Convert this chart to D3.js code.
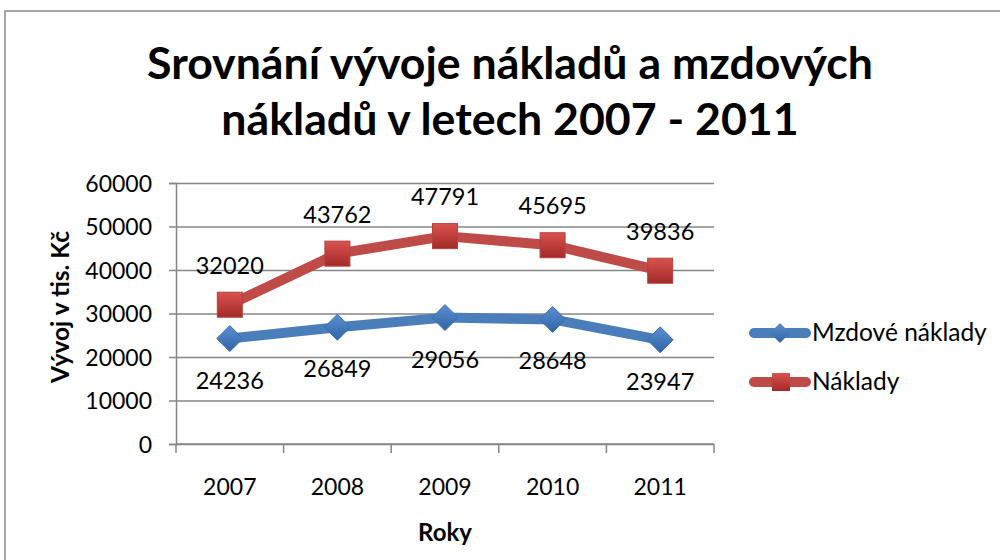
<!DOCTYPE html>
<html>
  <head>
    <meta charset="utf-8"/>
    <style>
      body { margin: 0; background: #fff; }
      text { font-family: Lato, "Open Sans", sans-serif; fill: #000; }
    </style>
  </head>
  <body>
    <script src="https://d3js.org/d3.v7.min.js"></script>
    <script type="text/javascript">
      var width = 1000, height = 560;

      var years = ["2007", "2008", "2009", "2010", "2011"];
      var mzdove = [24236, 26849, 29056, 28648, 23947];
      var naklady = [32020, 43762, 47791, 45695, 39836];
      var yTicks = [0, 10000, 20000, 30000, 40000, 50000, 60000];
      var seriesNames = ["Mzdové náklady", "Náklady"];
      var titleLines = ["Srovnání vývoje nákladů a mzdových", "nákladů v letech 2007 - 2011"];

      var svg = d3.select("body")
                  .append("svg")
                  .attr("width", width)
                  .attr("height", height)
                  .attr("xmlns", "http://www.w3.org/2000/svg");

      var defs = svg.append("defs");
      var gRed = defs.append("linearGradient").attr("id", "gred")
                     .attr("x1", 0).attr("y1", 0).attr("x2", 0).attr("y2", 1);
      gRed.append("stop").attr("offset", "0%").attr("stop-color", "#d9534f");
      gRed.append("stop").attr("offset", "100%").attr("stop-color", "#a32a28");
      var gBlue = defs.append("linearGradient").attr("id", "gblue")
                      .attr("x1", 0).attr("y1", 0).attr("x2", 0).attr("y2", 1);
      gBlue.append("stop").attr("offset", "0%").attr("stop-color", "#5b8fd0");
      gBlue.append("stop").attr("offset", "100%").attr("stop-color", "#2f64a6");

      // chart frame
      svg.append("rect").attr("x", 5).attr("y", 11)
         .attr("width", 1010).attr("height", 570)
         .attr("fill", "none").attr("stroke", "#8c8c8c").attr("stroke-width", 1.5);

      var pLeft = 176, pRight = 714, pTop = 183, pBottom = 444;

      var x = d3.scaleBand().domain(years).range([pLeft, pRight]);
      var y = d3.scaleLinear().domain([0, 60000]).range([pBottom, pTop]);
      var cx = function(d, i) { return x(years[i]) + x.bandwidth() / 2; };

      // title
      var title = svg.append("g");
      titleLines.forEach(function(t, i) {
        title.append("text").attr("x", 510).attr("y", 79 + i * 56)
             .attr("text-anchor", "middle")
             .style("font-weight", "bold").style("font-size", "40px")
             .text(t);
      });
      var w0 = title.select("text").node().getComputedTextLength();
      var fs = 40 * 726 / w0;
      title.selectAll("text").style("font-size", fs + "px");

      // gridlines + y axis
      var yAxis = d3.axisLeft(y).tickValues(yTicks).tickSize(7).tickPadding(10)
                    .tickFormat(function(d) { return d; });
      var gy = svg.append("g").attr("transform", "translate(" + pLeft + ",0)").call(yAxis);
      gy.select(".domain").attr("stroke", "#868686").attr("stroke-width", 1.5);
      gy.selectAll(".tick line").attr("stroke", "#868686").attr("stroke-width", 1.5)
        .attr("x2", pRight - pLeft).attr("x1", -7);
      gy.selectAll(".tick text").style("font-size", "23px").style("font-family", "Lato")
        .attr("x", -24).attr("dy", "0.35em");

      // x axis
      var gx = svg.append("g");
      gx.append("line").attr("x1", pLeft).attr("x2", pRight).attr("y1", pBottom).attr("y2", pBottom)
        .attr("stroke", "#868686").attr("stroke-width", 1.5);
      var edges = years.map(function(d) { return x(d); }).concat([pRight]);
      gx.selectAll(".xt").data(edges).enter().append("line")
        .attr("x1", function(d) { return d; }).attr("x2", function(d) { return d; })
        .attr("y1", pBottom).attr("y2", pBottom + 9)
        .attr("stroke", "#868686").attr("stroke-width", 1.5);
      gx.selectAll(".xl").data(years).enter().append("text")
        .attr("x", function(d) { return x(d) + x.bandwidth() / 2; })
        .attr("y", 495).attr("text-anchor", "middle").style("font-size", "23px")
        .text(function(d) { return d; });

      svg.append("text").attr("x", 445).attr("y", 541).attr("text-anchor", "middle")
         .style("font-weight", "bold").style("font-size", "24px").text("Roky");
      svg.append("text").attr("transform", "translate(69,307) rotate(-90)")
         .attr("text-anchor", "middle")
         .style("font-weight", "bold").style("font-size", "24.5px").text("Vývoj v tis. Kč");

      // lines
      var line = d3.line().x(cx).y(function(d) { return y(d); });
      svg.append("path").datum(mzdove).attr("d", line).attr("fill", "none")
         .attr("stroke", "#4a7ebb").attr("stroke-width", 10).attr("stroke-linejoin", "round").attr("stroke-linecap", "round");
      svg.append("path").datum(naklady).attr("d", line).attr("fill", "none")
         .attr("stroke", "#be4b48").attr("stroke-width", 10).attr("stroke-linejoin", "round").attr("stroke-linecap", "round");

      // markers
      var diamond = function(s) { return "M0," + (-s) + "L" + s + ",0L0," + s + "L" + (-s) + ",0Z"; };
      svg.selectAll(".dm").data(mzdove).enter().append("path")
         .attr("transform", function(d, i) { return "translate(" + cx(d, i) + "," + y(d) + ")"; })
         .attr("d", diamond(13)).attr("fill", "url(#gblue)").attr("stroke", "#3a6fb0").attr("stroke-width", 1);
      svg.selectAll(".sq").data(naklady).enter().append("rect")
         .attr("x", function(d, i) { return cx(d, i) - 12.5; }).attr("y", function(d) { return y(d) - 12.5; })
         .attr("width", 25).attr("height", 25)
         .attr("fill", "url(#gred)").attr("stroke", "#b5403d").attr("stroke-width", 1);

      // data labels
      svg.selectAll(".lm").data(mzdove).enter().append("text")
         .attr("x", cx).attr("y", function(d) { return y(d) + 50; })
         .attr("text-anchor", "middle").style("font-size", "23.5px").text(function(d) { return d; });
      svg.selectAll(".ln").data(naklady).enter().append("text")
         .attr("x", cx).attr("y", function(d) { return y(d) - 31; })
         .attr("text-anchor", "middle").style("font-size", "23.5px").text(function(d) { return d; });

      // legend
      var legY = [333, 382];
      var legColors = ["#4a7ebb", "#be4b48"];
      var lg = svg.selectAll(".leg").data(seriesNames).enter().append("g")
                  .attr("transform", function(d, i) { return "translate(750," + legY[i] + ")"; });
      lg.append("line").attr("x1", 4).attr("x2", 56).attr("y1", 0).attr("y2", 0)
        .attr("stroke", function(d, i) { return legColors[i]; }).attr("stroke-width", 10).attr("stroke-linecap", "round");
      lg.filter(function(d, i) { return i === 0; }).append("path")
        .attr("transform", "translate(30,0)").attr("d", diamond(10)).attr("fill", "url(#gblue)");
      lg.filter(function(d, i) { return i === 1; }).append("rect")
        .attr("x", 22).attr("y", -9).attr("width", 18).attr("height", 18).attr("fill", "url(#gred)");
      lg.append("text").attr("x", 62).attr("y", 8).style("font-size", "24.5px").text(function(d) { return d; });
    </script>
  </body>
</html>
